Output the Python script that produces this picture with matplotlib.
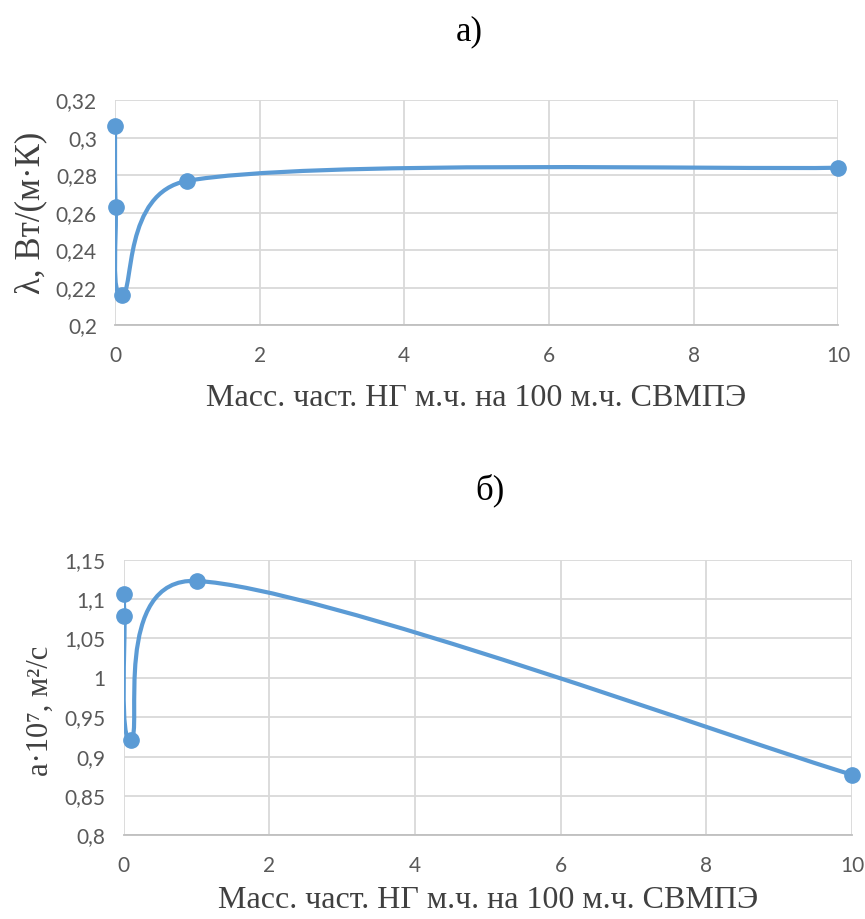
import numpy as np
import matplotlib
matplotlib.use("Agg")
import matplotlib.pyplot as plt
from matplotlib.path import Path
from matplotlib.patches import PathPatch

# data
conc = [0, 0.01, 0.1, 1, 10]
lam = [0.306, 0.263, 0.216, 0.277, 0.284]
conc_a = [0, 0.01, 0.1, 1, 10]
diff = [1.107, 1.079, 0.921, 1.123, 0.877]

xlabel = "Масс. част. НГ м.ч. на 100 м.ч. СВМПЭ"
line_c = "#5b9bd5"
grid_c = "#d9d9d9"
tick_c = "#595959"
serif = "Liberation Serif"
sans = "Lato"


def smooth_curve(ax, x, y):
    # excel-like smoothed line, built in screen space so the shape
    # does not depend on the axis units
    tr = ax.transData
    pts = tr.transform(np.column_stack([x, y]))
    n = len(pts)
    verts = [pts[0]]
    codes = [Path.MOVETO]
    for i in range(n - 1):
        p0 = pts[i - 1] if i > 0 else pts[i]
        p1 = pts[i]
        p2 = pts[i + 1]
        p3 = pts[i + 2] if i + 2 < n else pts[i + 1]
        seg = np.hypot(*(p2 - p1))
        t1 = (p2 - p0) / 6.0
        t2 = (p3 - p1) / 6.0
        lim = 0.5 * seg
        if np.hypot(*t1) > lim:
            t1 = t1 / np.hypot(*t1) * lim
        if np.hypot(*t2) > lim:
            t2 = t2 / np.hypot(*t2) * lim
        verts += [p1 + t1, p2 - t2, p2]
        codes += [Path.CURVE4] * 3
    verts = tr.inverted().transform(np.array(verts))
    ax.add_patch(PathPatch(Path(verts, codes), facecolor="none", edgecolor=line_c,
                           linewidth=3, zorder=3, capstyle="round"))


def style(ax, yticks, ylabels, pad):
    ax.set_xlim(0, 10)
    ax.set_xticks([0, 2, 4, 6, 8, 10])
    ax.set_yticks(yticks)
    ax.set_yticklabels(ylabels)
    ax.set_ylim(yticks[0], yticks[-1])
    ax.grid(True, color=grid_c, linewidth=1.3)
    ax.set_axisbelow(True)
    for s in ["top", "right", "left"]:
        ax.spines[s].set_visible(False)
    ax.spines["bottom"].set_color("#bfbfbf")
    ax.spines["bottom"].set_linewidth(1.3)
    ax.tick_params(axis="x", length=0, labelsize=15, labelcolor=tick_c, pad=15)
    ax.tick_params(axis="y", length=0, labelsize=15, labelcolor=tick_c, pad=13)
    for lbl in ax.get_xticklabels() + ax.get_yticklabels():
        lbl.set_fontfamily(sans)
    ax.set_xlabel(xlabel, fontsize=23, fontfamily=serif, color="#404040", labelpad=pad)


fig = plt.figure(figsize=(8.65, 9.19), dpi=100)

ax1 = fig.add_axes([0.133, 0.646, 0.836, 0.245])
y1 = [0.2, 0.22, 0.24, 0.26, 0.28, 0.3, 0.32]
style(ax1, y1, ["0,2", "0,22", "0,24", "0,26", "0,28", "0,3", "0,32"], 13)
smooth_curve(ax1, conc, lam)
ax1.plot(conc, lam, "o", color=line_c, markersize=11, zorder=4, clip_on=False)
ax1.set_ylabel("λ, Вт/(м·К)", fontsize=25, fontfamily=serif, color="#404040", labelpad=6)
fig.text(0.543, 0.965, "а)", fontsize=25, fontfamily=serif, ha="center", va="center")

ax2 = fig.add_axes([0.143, 0.091, 0.842, 0.300])
y2 = [0.8, 0.85, 0.9, 0.95, 1.0, 1.05, 1.1, 1.15]
style(ax2, y2, ["0,8", "0,85", "0,9", "0,95", "1", "1,05", "1,1", "1,15"], 7)
smooth_curve(ax2, conc_a, diff)
ax2.plot(conc_a, diff, "o", color=line_c, markersize=11, zorder=4, clip_on=False)
ax2.set_ylabel("a·10⁷, м²/с", fontsize=22, fontfamily=serif, color="#404040", labelpad=6)
ax2.yaxis.set_label_coords(-0.095, 0.45)
fig.text(0.566, 0.466, "б)", fontsize=25, fontfamily=serif, ha="center", va="center")

fig.savefig("out.png", dpi=100)
